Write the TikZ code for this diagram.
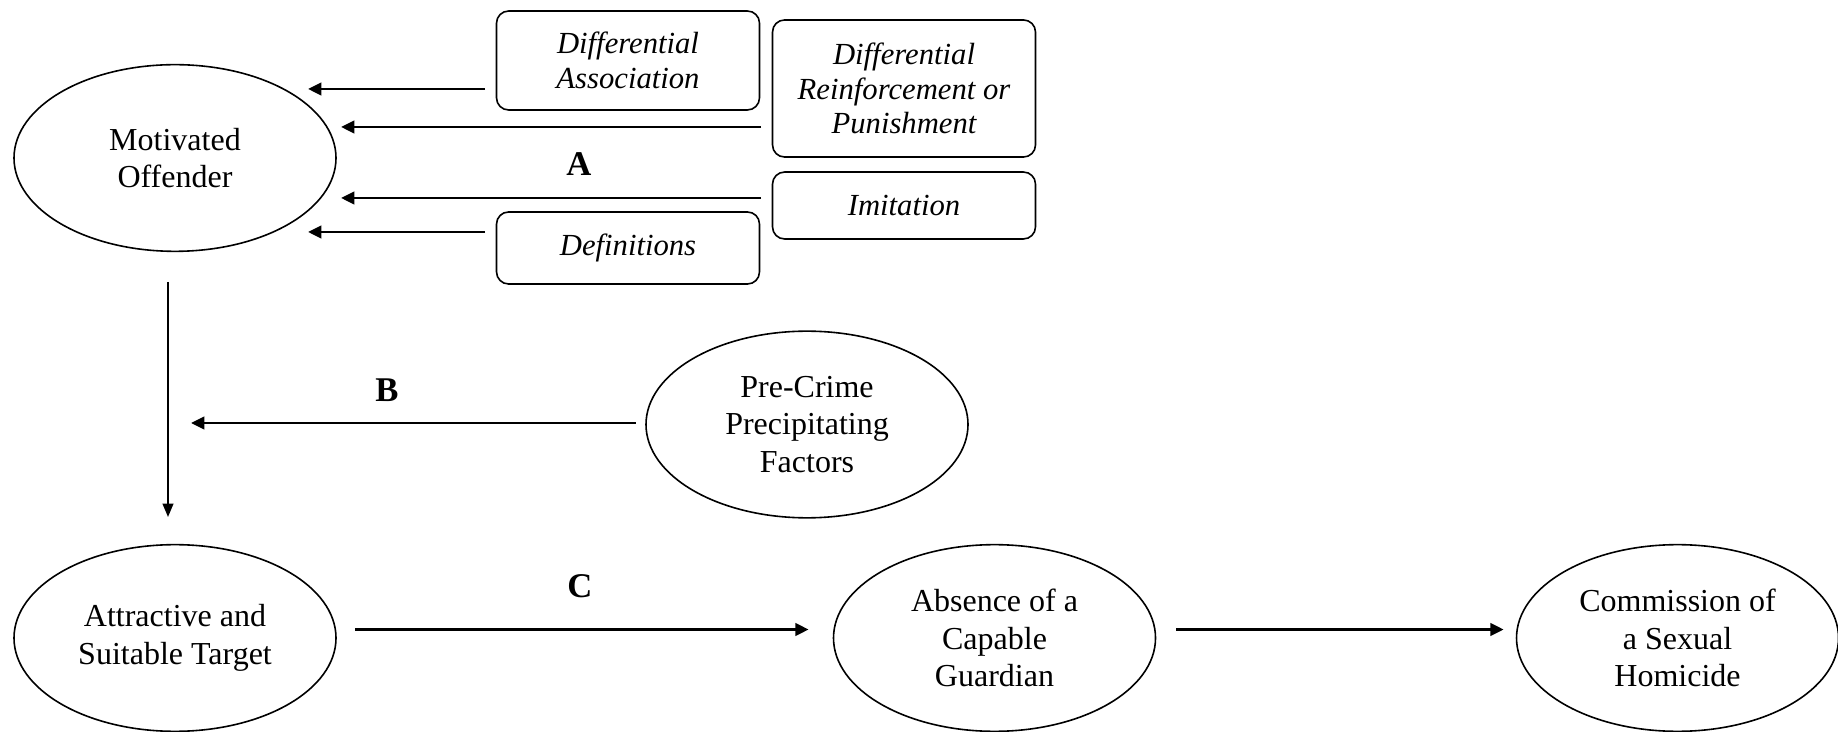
\documentclass[tikz,border=0pt]{standalone}
\usepackage{fontspec}
\setmainfont{Liberation Serif}
\usetikzlibrary{positioning,shapes.geometric,arrows.meta}

\tikzset{
  stage/.style={draw, ellipse, line width=0.6pt, minimum width=120.75pt, minimum height=70pt, inner sep=0pt, align=center, font=\fontsize{12}{14}\selectfont},
  factor/.style={draw, rounded corners=4.5pt, line width=0.6pt, minimum width=98.6pt, inner sep=0pt, align=center, font=\fontsize{11.5}{13}\selectfont\itshape},
  arr/.style={line width=1.1pt, -{Triangle[length=5pt,width=4.6pt]}},
  thinarr/.style={line width=0.75pt, -{Triangle[length=5pt,width=4pt]}},
  pathlabel/.style={font=\fontsize{13}{15}\selectfont\bfseries}
}

\begin{document}
\begin{tikzpicture}[x=0.375pt,y=0.375pt,yscale=-1,xscale=1]
\useasboundingbox (0,0) rectangle (1838,732);

%Ellipses
\node [stage] (mo) at (175,158) {Motivated\\Offender};
\node [stage] (pc) at (807,424.5) {Pre-Crime\\Precipitating\\Factors};
\node [stage] (at) at (175,638) {Attractive and\\Suitable Target};
\node [stage] (ab) at (994.5,638) {Absence of a\\Capable\\Guardian};
\node [stage] (sh) at (1677.5,638) {Commission of\\a Sexual\\Homicide};

%Rounded Rects
\node [factor, minimum height=37.1pt] (da) at (628,60.5) {Differential\\Association};
\node [factor, minimum height=51.4pt] (dr) at (904,88.5) {Differential\\Reinforcement or\\Punishment};
\node [factor, minimum height=25.1pt] (im) at (904,205.5) {Imitation};
\node [factor, minimum height=27pt] (df) at (628,248) {Definitions};

%Arrow ends
\coordinate (tipda) at (308,89);
\coordinate (tipdr) at (341,127);
\coordinate (tipim) at (341,198);
\coordinate (tipdf) at (308,232);
\coordinate (tippc) at (191,423);
\coordinate (topv) at (168,282);
\coordinate (tipv) at (168,517);

%Straight Lines
\draw [arr, shorten <=4pt] (da.west |- tipda) -- (tipda);
\draw [arr, shorten <=4pt] (dr.west |- tipdr) -- (tipdr);
\draw [arr, shorten <=4pt] (im.west |- tipim) -- (tipim);
\draw [arr, shorten <=4pt] (df.west |- tipdf) -- (tipdf);
\draw [thinarr] (topv) -- (tipv);
\draw [arr, shorten <=3.5pt] (pc.west |- tippc) -- (tippc);
\draw [arr, shorten <=7pt, shorten >=9pt] (at.east |- 0,629.5) -- (ab.west |- 0,629.5);
\draw [arr, shorten <=7.5pt, shorten >=4.5pt] (ab.east |- 0,629.5) -- (sh.west |- 0,629.5);

% Text Node
\node [pathlabel] (lA) at (579,164) {A};
% Text Node
\node [pathlabel] (lB) at (387,390) {B};
% Text Node
\node [pathlabel] (lC) at (580,586) {C};
\end{tikzpicture}
\end{document}
